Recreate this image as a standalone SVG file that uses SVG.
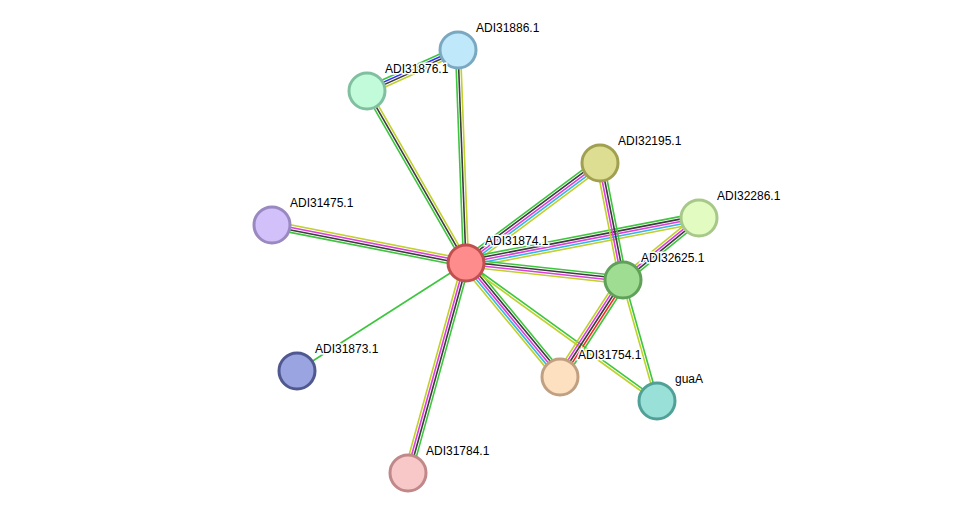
<svg xmlns="http://www.w3.org/2000/svg" width="975" height="518" viewBox="0 0 975 518">
<style>
line{stroke-width:1.6}
.g{stroke:#3dc63d}.k{stroke:#3c3c3c}.m{stroke:#dd3ddd}.c{stroke:#33b8e0}.y{stroke:#bfd12a}.b{stroke:#3030ff}.r{stroke:#ff2020}
circle{stroke-width:3}
text{font-family:"Liberation Sans",Arial,sans-serif;font-size:12px;fill:#000;stroke:#fff;stroke-width:3;paint-order:stroke}
</style>
<rect width="975" height="518" fill="#fff"/>
<g id="connectors">
<g transform="translate(466,263) rotate(-92.15)"><line class="g" x1="0" y1="-2.5" x2="213" y2="-2.5"/><line class="k" x1="0" y1="0" x2="213" y2="0"/><line class="y" x1="0" y1="2.5" x2="213" y2="2.5"/></g>
<g transform="translate(466,263) rotate(-119.9)"><line class="g" x1="0" y1="-2.5" x2="198" y2="-2.5"/><line class="k" x1="0" y1="0" x2="198" y2="0"/><line class="y" x1="0" y1="2.5" x2="198" y2="2.5"/></g>
<g transform="translate(367,91) rotate(-24.25)"><line class="g" x1="0" y1="-3.75" x2="100" y2="-3.75"/><line class="b" x1="0" y1="-1.25" x2="100" y2="-1.25"/><line class="k" x1="0" y1="1.25" x2="100" y2="1.25"/><line class="y" x1="0" y1="3.75" x2="100" y2="3.75"/></g>
<g transform="translate(466,263) rotate(-36.7)"><line class="g" x1="0" y1="-5" x2="167" y2="-5"/><line class="k" x1="0" y1="-2.5" x2="167" y2="-2.5"/><line class="m" x1="0" y1="0" x2="167" y2="0"/><line class="c" x1="0" y1="2.5" x2="167" y2="2.5"/><line class="y" x1="0" y1="5" x2="167" y2="5"/></g>
<g transform="translate(466,263) rotate(-10.93)"><line class="g" x1="0" y1="-5" x2="237" y2="-5"/><line class="k" x1="0" y1="-2.5" x2="237" y2="-2.5"/><line class="m" x1="0" y1="0" x2="237" y2="0"/><line class="c" x1="0" y1="2.5" x2="237" y2="2.5"/><line class="y" x1="0" y1="5" x2="237" y2="5"/></g>
<g transform="translate(466,263) rotate(6.18)"><line class="g" x1="0" y1="-3.75" x2="158" y2="-3.75"/><line class="k" x1="0" y1="-1.25" x2="158" y2="-1.25"/><line class="m" x1="0" y1="1.25" x2="158" y2="1.25"/><line class="y" x1="0" y1="3.75" x2="158" y2="3.75"/></g>
<g transform="translate(466,263) rotate(-168.92)"><line class="g" x1="0" y1="-3.75" x2="198" y2="-3.75"/><line class="k" x1="0" y1="-1.25" x2="198" y2="-1.25"/><line class="m" x1="0" y1="1.25" x2="198" y2="1.25"/><line class="y" x1="0" y1="3.75" x2="198" y2="3.75"/></g>
<line class="g" x1="466" y1="263" x2="297" y2="371"/>
<g transform="translate(466,263) rotate(105.44)"><line class="g" x1="0" y1="-3.75" x2="218" y2="-3.75"/><line class="k" x1="0" y1="-1.25" x2="218" y2="-1.25"/><line class="m" x1="0" y1="1.25" x2="218" y2="1.25"/><line class="y" x1="0" y1="3.75" x2="218" y2="3.75"/></g>
<g transform="translate(466,263) rotate(50.5)"><line class="g" x1="0" y1="-5" x2="148" y2="-5"/><line class="k" x1="0" y1="-2.5" x2="148" y2="-2.5"/><line class="m" x1="0" y1="0" x2="148" y2="0"/><line class="c" x1="0" y1="2.5" x2="148" y2="2.5"/><line class="y" x1="0" y1="5" x2="148" y2="5"/></g>
<g transform="translate(466,263) rotate(35.85)"><line class="g" x1="0" y1="-1.25" x2="236" y2="-1.25"/><line class="y" x1="0" y1="1.25" x2="236" y2="1.25"/></g>
<g transform="translate(600,163) rotate(78.88)"><line class="g" x1="0" y1="-3.75" x2="119" y2="-3.75"/><line class="k" x1="0" y1="-1.25" x2="119" y2="-1.25"/><line class="m" x1="0" y1="1.25" x2="119" y2="1.25"/><line class="y" x1="0" y1="3.75" x2="119" y2="3.75"/></g>
<g transform="translate(699,218) rotate(140.8)"><line class="g" x1="0" y1="-3.75" x2="98" y2="-3.75"/><line class="k" x1="0" y1="-1.25" x2="98" y2="-1.25"/><line class="m" x1="0" y1="1.25" x2="98" y2="1.25"/><line class="y" x1="0" y1="3.75" x2="98" y2="3.75"/></g>
<g transform="translate(623,280) rotate(123)"><line class="g" x1="0" y1="-5" x2="116" y2="-5"/><line class="r" x1="0" y1="-2.5" x2="116" y2="-2.5"/><line class="k" x1="0" y1="0" x2="116" y2="0"/><line class="m" x1="0" y1="2.5" x2="116" y2="2.5"/><line class="y" x1="0" y1="5" x2="116" y2="5"/></g>
<g transform="translate(623,280) rotate(74.3)"><line class="g" x1="0" y1="-1.25" x2="126" y2="-1.25"/><line class="y" x1="0" y1="1.25" x2="126" y2="1.25"/></g>
</g>
<g id="ADI31886.1"><circle cx="458" cy="50" r="18" fill="#c0e8fb" stroke="#7aa8c0"/><text x="476" y="32">ADI31886.1</text></g>
<g id="ADI31876.1"><circle cx="367" cy="91" r="18" fill="#c2fbd9" stroke="#80c0a0"/><text x="385" y="73">ADI31876.1</text></g>
<g id="ADI32195.1"><circle cx="600" cy="163" r="18" fill="#dede92" stroke="#a0a050"/><text x="618" y="145">ADI32195.1</text></g>
<g id="ADI32286.1"><circle cx="699" cy="218" r="18" fill="#e2fbc0" stroke="#a8c88a"/><text x="717" y="200">ADI32286.1</text></g>
<g id="ADI31475.1"><circle cx="272" cy="225" r="18" fill="#d2c0fb" stroke="#9a88c0"/><text x="290" y="207">ADI31475.1</text></g>
<g id="ADI31874.1"><circle cx="466" cy="263" r="18" fill="#ff8c8c" stroke="#c05050"/><text x="485" y="245">ADI31874.1</text></g>
<g id="ADI32625.1"><circle cx="623" cy="280" r="18" fill="#9fdd92" stroke="#60a058"/><text x="641" y="262">ADI32625.1</text></g>
<g id="ADI31873.1"><circle cx="297" cy="371" r="18" fill="#9aa4e0" stroke="#505890"/><text x="315" y="353">ADI31873.1</text></g>
<g id="ADI31754.1"><circle cx="560" cy="377" r="18" fill="#fde0c0" stroke="#c0a080"/><text x="578" y="359">ADI31754.1</text></g>
<g id="guaA"><circle cx="657" cy="401" r="18" fill="#98e0d8" stroke="#50a098"/><text x="675" y="383">guaA</text></g>
<g id="ADI31784.1"><circle cx="408" cy="473" r="18" fill="#f8c8c8" stroke="#c08888"/><text x="426" y="455">ADI31784.1</text></g>
</svg>
